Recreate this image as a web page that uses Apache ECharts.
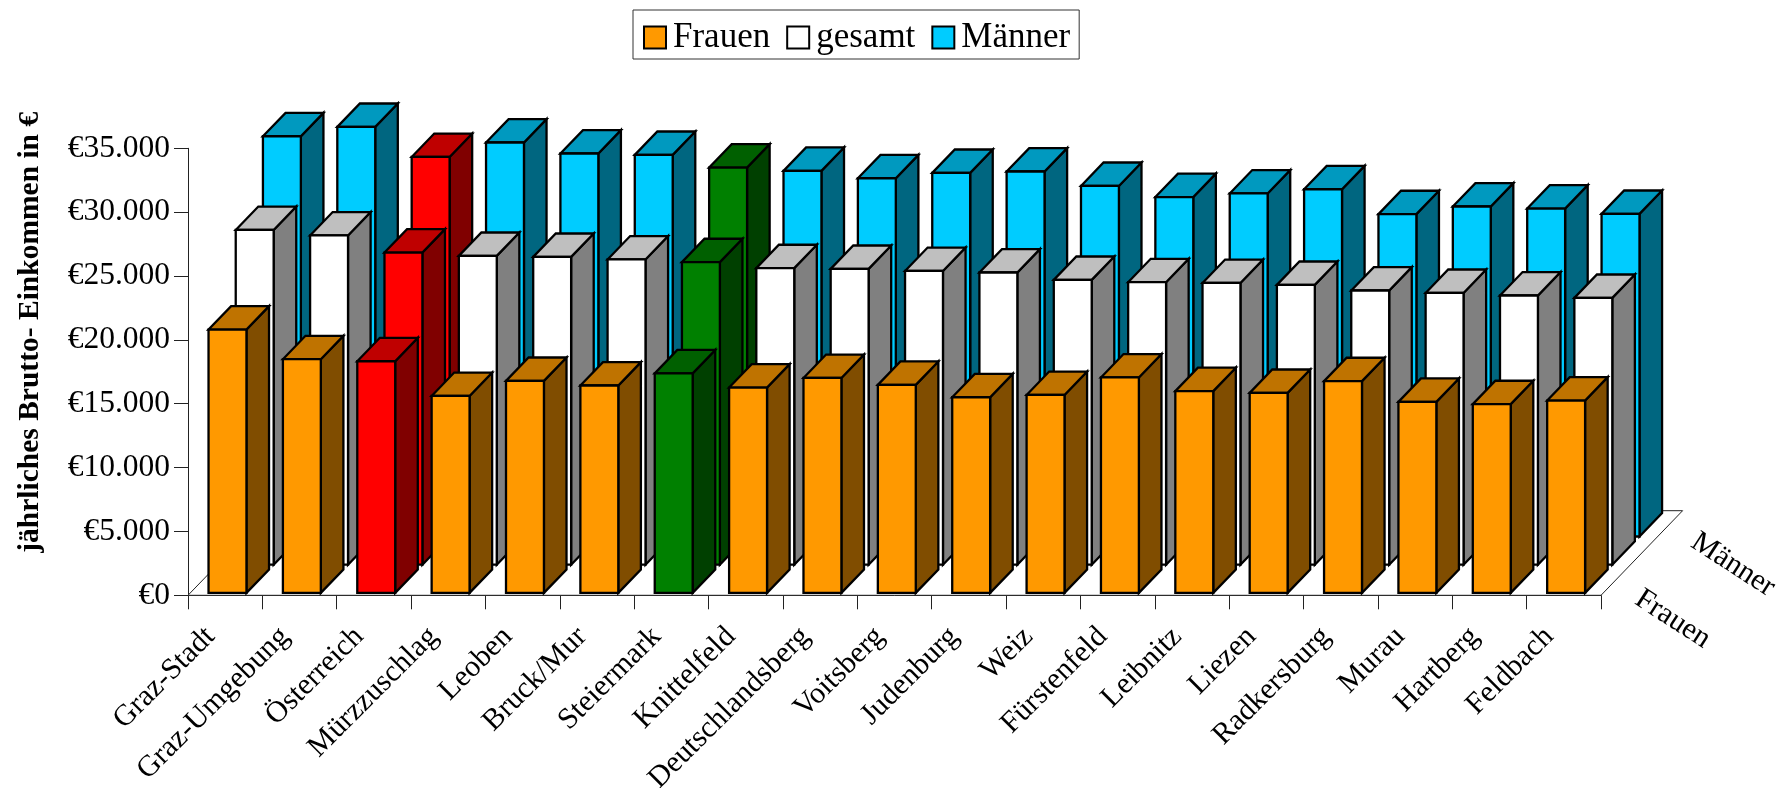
<!DOCTYPE html>
<html lang="de">
<head>
<meta charset="utf-8">
<title>Jährliches Brutto-Einkommen</title>
<style>
  html, body { margin: 0; padding: 0; background: #fff; }
  #chart { width: 1778px; height: 788px; }
</style>
<script src="https://cdn.jsdelivr.net/npm/echarts@6/dist/echarts.min.js"></script>
</head>
<body>
<div id="chart"></div>
<script>
// Annual gross income by Styrian district, women / total / men
const categories = ['Graz-Stadt', 'Graz-Umgebung', 'Österreich', 'Mürzzuschlag', 'Leoben', 'Bruck/Mur',
  'Steiermark', 'Knittelfeld', 'Deutschlandsberg', 'Voitsberg', 'Judenburg', 'Weiz', 'Fürstenfeld',
  'Leibnitz', 'Liezen', 'Radkersburg', 'Murau', 'Hartberg', 'Feldbach'];
const frauen = [20620, 18300, 18140, 15420, 16600, 16240, 17190, 16080, 16830, 16290, 15320, 15500,
  16870, 15800, 15660, 16580, 14960, 14780, 15060];
const gesamt = [26210, 25780, 24440, 24180, 24100, 23900, 23690, 23220, 23160, 23000, 22880, 22300,
  22120, 22060, 21910, 21470, 21280, 21080, 20890];
const maenner = [31340, 32070, 29720, 30850, 29990, 29880, 28890, 28630, 28050, 28470, 28580, 27450,
  26580, 26860, 27190, 25240, 25840, 25680, 25260];

const depthLabels = ['Frauen', '', 'Männer'];
const rowColors = ['#FF9900', '#FFFFFF', '#00CCFF'];
const accentColors = { 'Österreich': '#FF0000', 'Steiermark': '#008000' };

const FONT = '"Liberation Serif", "Times New Roman", serif';
const DEPTH_X = 27.2;       // screen shift per depth row
const DEPTH_Y = -28.2;
const BAR_FILL = 0.51;      // bar width as a share of the category band
const BAR_DEPTH = [0.085, 0.915];

function shade(hex, f) {
  const n = parseInt(hex.slice(1), 16);
  const c = [n >> 16, (n >> 8) & 255, n & 255].map(v => Math.round(v * f));
  return `rgb(${c[0]},${c[1]},${c[2]})`;
}

function bar3d(row) {
  return function (params, api) {
    const i = api.value(0);
    const band = api.size([1, 0])[0];
    const half = band * BAR_FILL / 2;
    const zero = api.coord([i, 0]);
    const top = api.coord([i, api.value(1)]);
    const d0 = row + BAR_DEPTH[0], d1 = row + BAR_DEPTH[1];
    const sx0 = DEPTH_X * d0, sy0 = DEPTH_Y * d0;
    const sx1 = DEPTH_X * d1, sy1 = DEPTH_Y * d1;
    const l = zero[0] - half, r = zero[0] + half;
    const base = rowColors[row];
    const color = accentColors[categories[i]] || base;
    const edge = { stroke: '#000', lineWidth: 2.3, lineJoin: 'miter' };
    const poly = (points, fill) => ({
      type: 'polygon',
      shape: { points },
      style: Object.assign({ fill }, edge)
    });
    return {
      type: 'group',
      children: [
        poly([[r + sx0, zero[1] + sy0], [r + sx1, zero[1] + sy1], [r + sx1, top[1] + sy1], [r + sx0, top[1] + sy0]], shade(color, 0.5)),
        poly([[l + sx0, top[1] + sy0], [l + sx1, top[1] + sy1], [r + sx1, top[1] + sy1], [r + sx0, top[1] + sy0]], shade(color, 0.75)),
        poly([[l + sx0, zero[1] + sy0], [r + sx0, zero[1] + sy0], [r + sx0, top[1] + sy0], [l + sx0, top[1] + sy0]], color)
      ]
    };
  };
}

// Floor of the 3D plot with the labels for the depth axis
function floor(params, api) {
  const last = categories.length - 1;
  const band = api.size([1, 0])[0];
  const a = api.coord([0, 0]);
  const b = api.coord([last, 0]);
  const x0 = a[0] - band / 2, x1 = b[0] + band / 2, y = a[1];
  const rows = depthLabels.length;
  const dx = DEPTH_X * rows, dy = DEPTH_Y * rows;
  const children = [{
    type: 'polygon',
    shape: { points: [[x0, y], [x1, y], [x1 + dx, y + dy], [x0 + dx, y + dy]] },
    style: { fill: '#fff', stroke: '#222', lineWidth: 1 }
  }];
  depthLabels.forEach((text, row) => {
    if (!text) return;
    children.push({
      type: 'text',
      x: x1 + DEPTH_X * (row + 0.5) + 58 + row * 3,
      y: y + DEPTH_Y * (row + 0.5) + 38 + row,
      rotation: -33 * Math.PI / 180,
      style: { text, fill: '#000', font: `30px ${FONT}`, align: 'center', verticalAlign: 'middle' }
    });
  });
  return { type: 'group', children };
}

const seriesList = [
  { name: 'Männer', values: maenner, row: 2 },
  { name: 'gesamt', values: gesamt, row: 1 },
  { name: 'Frauen', values: frauen, row: 0 }
];

const legendOrder = ['Frauen', 'gesamt', 'Männer'];

const chart = echarts.init(document.getElementById('chart'), null, { renderer: 'canvas' });
chart.setOption({
  animation: false,
  backgroundColor: '#fff',
  tooltip: { show: false },
  legend: {
    left: 633,
    top: 10,
    padding: [10, 9, 4, 10],
    itemGap: 16,
    itemWidth: 22,
    itemHeight: 22,
    selectedMode: false,
    borderColor: '#333',
    borderWidth: 1,
    textStyle: { fontFamily: FONT, fontSize: 35, color: '#000', padding: [4, 0, 0, 2] },
    data: legendOrder.map(name => ({
      name,
      icon: 'rect',
      itemStyle: {
        color: rowColors[seriesList.find(s => s.name === name).row],
        borderColor: '#000',
        borderWidth: 2
      }
    }))
  },
  grid: { left: 188, right: 177, top: 148.3, bottom: 192.7, outerBoundsMode: 'none' },
  xAxis: {
    type: 'category',
    data: categories,
    boundaryGap: true,
    axisLine: { lineStyle: { color: '#222', width: 1 } },
    axisTick: { show: true, length: 14, lineStyle: { color: '#222', width: 1 } },
    axisLabel: { interval: 0, rotate: 45, margin: 22, padding: [0, 21, 0, 0], color: '#000', fontFamily: FONT, fontSize: 30 },
    splitLine: { show: false }
  },
  yAxis: {
    type: 'value',
    min: 0,
    max: 35000,
    interval: 5000,
    name: 'jährliches Brutto- Einkommen in €',
    nameLocation: 'middle',
    nameRotate: 90,
    nameGap: 143,
    nameTextStyle: { fontFamily: FONT, fontSize: 29.5, fontWeight: 'bold', color: '#000', padding: [0, 0, 0, 79] },
    axisLine: { show: true, lineStyle: { color: '#222', width: 1 } },
    axisTick: { show: true, length: 14, lineStyle: { color: '#222', width: 1 } },
    axisLabel: {
      margin: 18,
      color: '#000',
      fontFamily: FONT,
      fontSize: 31.5,
      formatter: v => '€' + String(v).replace(/\B(?=(\d{3})+$)/g, '.')
    },
    splitLine: { show: false }
  },
  series: [
    { name: 'Boden', type: 'custom', silent: true, z: 1, renderItem: floor, data: [[0, 0]], legendHoverLink: false }
  ].concat(seriesList.map(s => ({
    name: s.name,
    type: 'custom',
    silent: true,
    z: 2 + (2 - s.row),
    itemStyle: { color: rowColors[s.row] },
    encode: { x: 0, y: 1 },
    renderItem: bar3d(s.row),
    data: s.values.map((v, i) => [i, v])
  })))
});
</script>
</body>
</html>
